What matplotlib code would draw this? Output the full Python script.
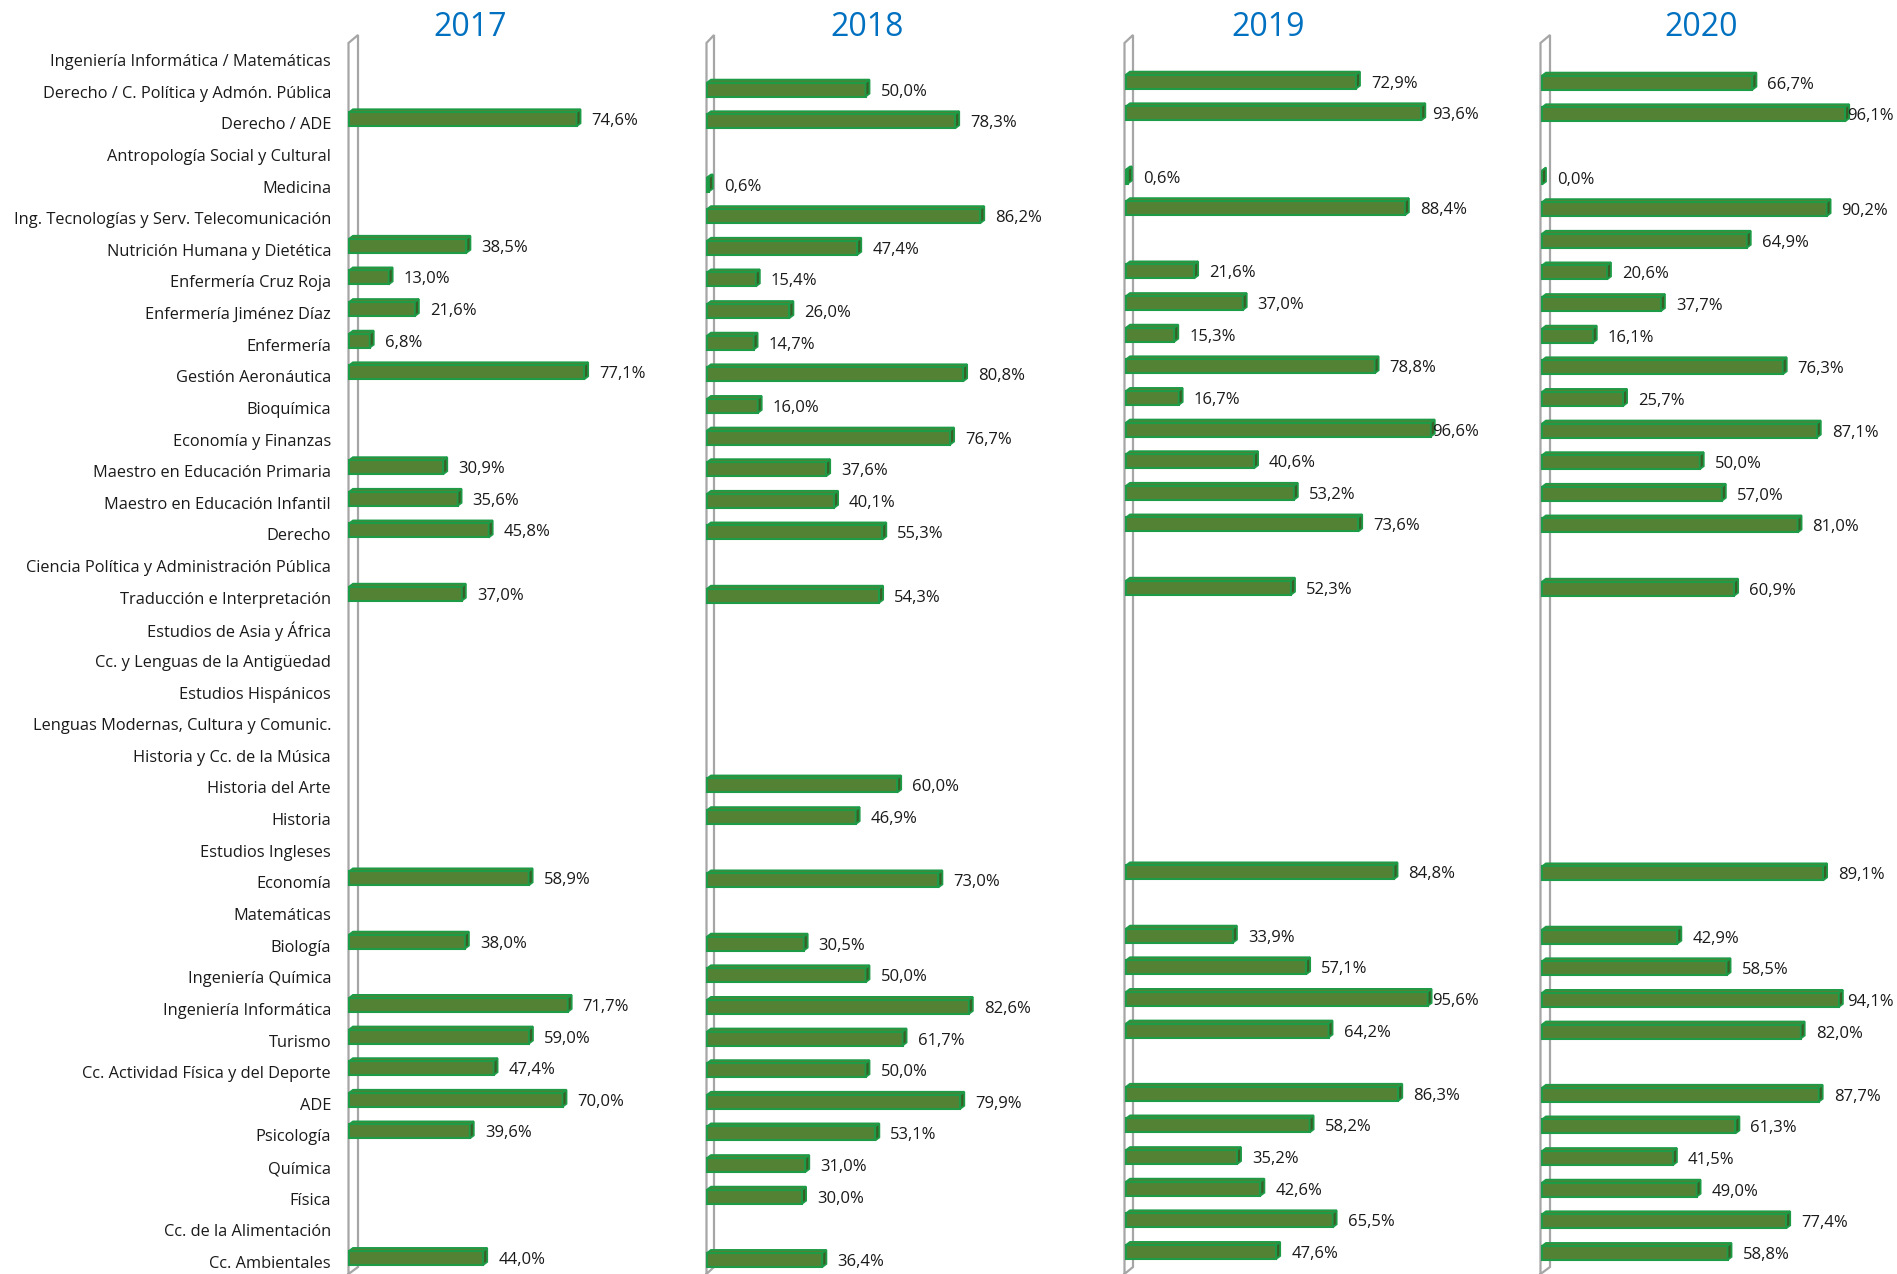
import matplotlib.pyplot as plt
from matplotlib.patches import Polygon

# programmes (top to bottom) and graduation rate per year (%), None = no data
categories = [
    "Ingeniería Informática / Matemáticas",
    "Derecho / C. Política y Admón. Pública",
    "Derecho / ADE",
    "Antropología Social y Cultural",
    "Medicina",
    "Ing. Tecnologías y Serv. Telecomunicación",
    "Nutrición Humana y Dietética",
    "Enfermería Cruz Roja",
    "Enfermería Jiménez Díaz",
    "Enfermería",
    "Gestión Aeronáutica",
    "Bioquímica",
    "Economía y Finanzas",
    "Maestro en Educación Primaria",
    "Maestro en Educación Infantil",
    "Derecho",
    "Ciencia Política y Administración Pública",
    "Traducción e Interpretación",
    "Estudios de Asia y África",
    "Cc. y Lenguas de la Antigüedad",
    "Estudios Hispánicos",
    "Lenguas Modernas, Cultura y Comunic.",
    "Historia y Cc. de la Música",
    "Historia del Arte",
    "Historia",
    "Estudios Ingleses",
    "Economía",
    "Matemáticas",
    "Biología",
    "Ingeniería Química",
    "Ingeniería Informática",
    "Turismo",
    "Cc. Actividad Física y del Deporte",
    "ADE",
    "Psicología",
    "Química",
    "Física",
    "Cc. de la Alimentación",
    "Cc. Ambientales",
]

years = ["2017", "2018", "2019", "2020"]

v2017 = [None, None, 74.6, None, None, None, 38.5, 13.0, 21.6, 6.8, 77.1, None, None,
         30.9, 35.6, 45.8, None, 37.0, None, None, None, None, None, None, None, None,
         58.9, None, 38.0, None, 71.7, 59.0, 47.4, 70.0, 39.6, None, None, None, 44.0]
v2018 = [None, 50.0, 78.3, None, 0.6, 86.2, 47.4, 15.4, 26.0, 14.7, 80.8, 16.0, 76.7,
         37.6, 40.1, 55.3, None, 54.3, None, None, None, None, None, 60.0, 46.9, None,
         73.0, None, 30.5, 50.0, 82.6, 61.7, 50.0, 79.9, 53.1, 31.0, 30.0, None, 36.4]
v2019 = [None, 72.9, 93.6, None, 0.6, 88.4, None, 21.6, 37.0, 15.3, 78.8, 16.7, 96.6,
         40.6, 53.2, 73.6, None, 52.3, None, None, None, None, None, None, None, None,
         84.8, None, 33.9, 57.1, 95.6, 64.2, None, 86.3, 58.2, 35.2, 42.6, 65.5, 47.6]
v2020 = [None, 66.7, 96.1, None, 0.0, 90.2, 64.9, 20.6, 37.7, 16.1, 76.3, 25.7, 87.1,
         50.0, 57.0, 81.0, None, 60.9, None, None, None, None, None, None, None, None,
         89.1, None, 42.9, 58.5, 94.1, 82.0, None, 87.7, 61.3, 41.5, 49.0, 77.4, 58.8]
series = [v2017, v2018, v2019, v2020]

W, H = 1897, 1274
ROW = 31.63          # px per row
Y0 = 60              # px of first row centre
TOP, BOTTOM = 35, 1274

# per panel layout, in pixels: wall front, wall back, bar start, px per %, title x,
# bar vertical shift, label clamp (% units)
panels = [
    dict(wf=347, wb=358, s=349, k=3.05, tx=470, dy=-4, clamp=999, right=690),
    dict(wf=705, wb=714, s=707, k=3.17, tx=867, dy=-2, clamp=999, right=1110),
    dict(wf=1123, wb=1133, s=1126, k=3.155, tx=1268, dy=-10, clamp=97.0, right=1530),
    dict(wf=1539, wb=1550, s=1542, k=3.155, tx=1701, dy=-9, clamp=96.7, right=1897),
]

FRONT = "#548235"
EDGE = "#1E9B47"
SIDE = "#3A5F26"
WALL = "#A6A6A6"
FONT = "Open Sans"

fig = plt.figure(figsize=(W / 100, H / 100), dpi=100)
fig.patch.set_facecolor("white")

ylo = (TOP - Y0) / ROW
yhi = (BOTTOM - Y0) / ROW
bar_h = 14 / ROW
depth_y = 3 / ROW

for n, (p, vals, yr) in enumerate(zip(panels, series, years)):
    ax_w = p["right"] - p["wf"]
    ax = fig.add_axes([p["wf"] / W, 0, ax_w / W, (BOTTOM - TOP) / H])
    k = p["k"]
    ax.set_xlim((p["wf"] - p["s"]) / k, (p["right"] - p["s"]) / k)
    ax.set_ylim(yhi, ylo)
    for sp in ax.spines.values():
        sp.set_visible(False)
    ax.set_xticks([])
    if n == 0:
        ax.set_yticks(range(len(categories)))
        ax.set_yticklabels(categories, fontsize=11.8, family=FONT, color="#1a1a1a")
        ax.tick_params(axis="y", length=0, pad=11.5)
    else:
        ax.set_yticks([])

    # 3d wall
    fb = 1 - (43 - TOP) / (BOTTOM - TOP)
    bb = (BOTTOM - 1267) / (BOTTOM - TOP)
    xb = (p["wb"] - p["wf"]) / ax_w
    xf = 1.5 / ax_w
    ax.plot([xf, xf, xb, xb, xf], [0, fb, 1, bb, 0], color=WALL, lw=1.6,
            transform=ax.transAxes, clip_on=False, solid_joinstyle="miter")

    dx = 4 / k
    pos = [i + p["dy"] / ROW for i, v in enumerate(vals) if v is not None]
    vv = [v for v in vals if v is not None]
    ax.barh(pos, vv, height=bar_h, color=FRONT, edgecolor=EDGE, linewidth=1.5, zorder=3)
    for y, v in zip(pos, vv):
        top = y - bar_h / 2
        bot = y + bar_h / 2
        ax.add_patch(Polygon([(0, top), (v, top), (v + dx, top - depth_y), (dx, top - depth_y)],
                             closed=True, facecolor=FRONT, edgecolor=EDGE, lw=1.3, zorder=2))
        ax.add_patch(Polygon([(v, top), (v + dx, top - depth_y), (v + dx, bot - depth_y), (v, bot)],
                             closed=True, facecolor=SIDE, edgecolor=EDGE, lw=1.3, zorder=4))
        lx = min(v + 15 / k, p["clamp"])
        ax.text(lx, y + 2 / ROW, f"{v:.1f}%".replace(".", ","), ha="left", va="center",
                fontsize=12, family=FONT, color="#1a1a1a", zorder=5, clip_on=False)

    fig.text(p["tx"] / W, 1 - 27 / H, yr, ha="center", va="center", fontsize=23,
             family=FONT, color="#0070C0")

fig.savefig("out.png", dpi=100, facecolor="white")
